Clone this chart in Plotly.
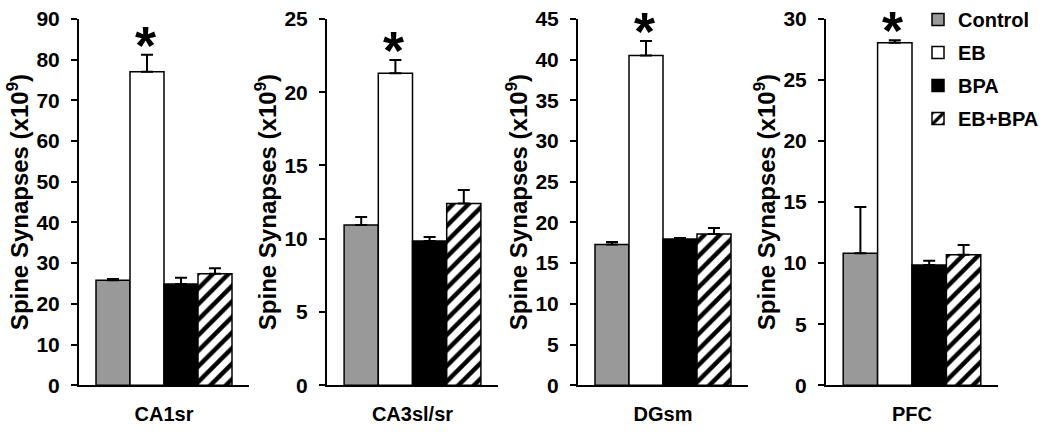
import plotly.graph_objects as go

# ---------------- data ----------------
regions = ["CA1sr", "CA3sl/sr", "DGsm", "PFC"]
groups = ["Control", "EB", "BPA", "EB+BPA"]

control = [25.8, 10.93, 17.3, 10.8]
control_err = [0.3, 0.55, 0.3, 3.8]
eb = [77.0, 21.3, 40.5, 28.05]
eb_err = [4.2, 0.9, 1.8, 0.2]
bpa = [24.9, 9.85, 17.97, 9.84]
bpa_err = [1.5, 0.27, 0.12, 0.35]
ebbpa = [27.4, 12.4, 18.58, 10.68]
ebbpa_err = [1.35, 0.93, 0.75, 0.8]

y_max = [90, 25, 45, 30]
y_dtick = [10, 5, 5, 5]
significant = [True, True, True, True]  # EB vs control

values = [control, eb, bpa, ebbpa]
errors = [control_err, eb_err, bpa_err, ebbpa_err]

# ---------------- style ----------------
W, H = 1050, 435
FONT = "Arial, 'Liberation Sans', sans-serif"
BARGAP = 0.2
fills = {
    "Control": dict(color="#999999"),
    "EB": dict(color="white"),
    "BPA": dict(color="black"),
    "EB+BPA": dict(color="white",
                   pattern=dict(shape="/", fgcolor="black", bgcolor="white",
                                size=11, solidity=0.4, fillmode="replace")),
}
x_px = [(79, 249), (327, 498), (578, 748), (826, 998)]
y_dom = [(H - 385) / H, (H - 17) / H]

fig = go.Figure()

for p, region in enumerate(regions):
    ax = "" if p == 0 else str(p + 1)
    d0, d1 = x_px[p]
    bar_w = (d1 - d0) * (1 - BARGAP) / len(groups)
    eb_index = groups.index("EB")
    # pixel offset of the EB bar centre from the category centre
    eb_offset = (eb_index + 0.5 - len(groups) / 2) * bar_w

    for g, name in enumerate(groups):
        fig.add_trace(go.Bar(
            x=[region], y=[values[g][p]],
            name=name, legendgroup=name, showlegend=(p == 0),
            marker=dict(**fills[name], line=dict(color="black", width=1.5)),
            error_y=dict(type="data", symmetric=False, array=[errors[g][p]],
                         arrayminus=[0], color="black", thickness=2, width=6),
            xaxis="x" + ax, yaxis="y" + ax,
            offsetgroup=str(g),
        ))
    if significant[p]:
        fig.add_annotation(
            x=region, y=eb[p] + eb_err[p], xref="x" + ax, yref="y" + ax,
            text="*", showarrow=False, yanchor="middle", yshift=10,
            xshift=eb_offset - 2,
            font=dict(family=FONT, size=54, color="black", weight="bold"),
        )

    fig.update_layout(**{
        "xaxis" + ax: dict(
            domain=[d0 / W, d1 / W], anchor="y" + ax, type="category",
            range=[-0.5, 0.5], showline=True, linecolor="black", linewidth=2,
            ticks="", ticklabelstandoff=10, automargin=False,
            tickfont=dict(family=FONT, size=20, color="black", weight="bold"),
            showgrid=False, zeroline=False,
        ),
        "yaxis" + ax: dict(
            domain=y_dom, anchor="x" + ax, range=[0, y_max[p]], dtick=y_dtick[p],
            showline=True, linecolor="black", linewidth=2, automargin=False,
            ticks="outside", ticklen=6, tickwidth=2, tickcolor="black",
            ticklabelstandoff=7,
            tickfont=dict(family=FONT, size=21, color="black", weight="bold"),
            showgrid=False, zeroline=False,
            title=dict(text="Spine Synapses (x10<sup>9</sup>)", standoff=1,
                       font=dict(family=FONT, size=24, color="black", weight="bold")),
        ),
    })

fig.update_layout(
    width=W, height=H,
    margin=dict(l=0, r=0, t=0, b=0),
    paper_bgcolor="white", plot_bgcolor="white",
    barmode="group", bargap=BARGAP, bargroupgap=0,
    showlegend=True,
    legend=dict(x=918 / W, y=1.005, xanchor="left", yanchor="top",
                traceorder="grouped", tracegroupgap=4,
                bgcolor="rgba(0,0,0,0)",
                font=dict(family=FONT, size=20, color="black", weight="bold")),
)

fig.write_html("out.html", config={"displayModeBar": False},
               post_script="document.body.style.margin='0';")
